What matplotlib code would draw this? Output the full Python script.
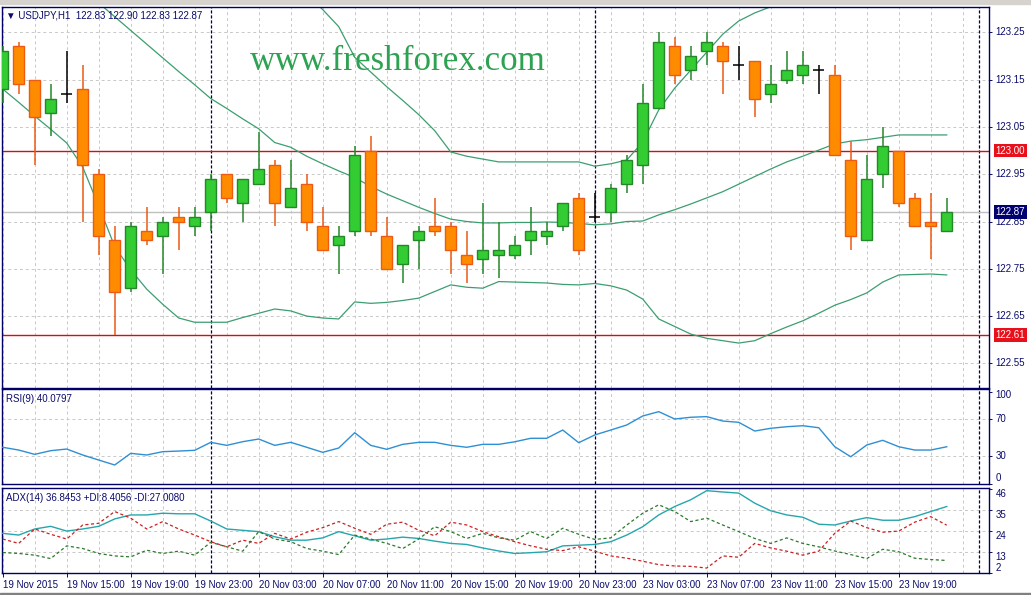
import numpy as np
import matplotlib
matplotlib.use("Agg")
import matplotlib.pyplot as plt
from matplotlib.patches import Rectangle
import matplotlib.transforms as mtrans

# ---- data (USDJPY H1, 19-23 Nov 2015) ----
opens = [123.13, 123.22, 123.15, 123.08, 123.12, 123.13, 122.95, 122.81, 122.71, 122.83,
         122.82, 122.86, 122.84, 122.87, 122.95, 122.89, 122.93, 122.97, 122.88, 122.93,
         122.84, 122.80, 122.83, 123.00, 122.82, 122.76, 122.81, 122.84, 122.84, 122.78,
         122.77, 122.78, 122.78, 122.81, 122.82, 122.84, 122.90, 122.86, 122.87, 122.93,
         122.97, 123.09, 123.22, 123.17, 123.21, 123.22, 123.18, 123.19, 123.12, 123.15,
         123.16, 123.17, 123.16, 122.98, 122.81, 122.95, 123.00, 122.90, 122.85, 122.83]
highs = [123.22, 123.23, 123.15, 123.14, 123.21, 123.18, 122.96, 122.84, 122.85, 122.88,
         122.86, 122.88, 122.88, 122.95, 122.95, 122.94, 123.04, 122.98, 122.98, 122.95,
         122.88, 122.84, 123.01, 123.03, 122.86, 122.80, 122.84, 122.90, 122.85, 122.83,
         122.89, 122.85, 122.82, 122.88, 122.85, 122.89, 122.91, 122.91, 122.93, 122.99,
         123.14, 123.25, 123.24, 123.22, 123.25, 123.23, 123.22, 123.19, 123.18, 123.21,
         123.21, 123.18, 123.18, 123.02, 122.99, 123.05, 123.00, 122.91, 122.91, 122.90]
lows = [123.10, 123.12, 122.97, 123.03, 123.10, 122.85, 122.78, 122.61, 122.70, 122.80,
        122.74, 122.79, 122.82, 122.83, 122.89, 122.85, 122.93, 122.84, 122.88, 122.83,
        122.79, 122.74, 122.82, 122.82, 122.75, 122.72, 122.75, 122.82, 122.74, 122.72,
        122.74, 122.73, 122.77, 122.78, 122.80, 122.83, 122.78, 122.85, 122.85, 122.91,
        122.93, 123.09, 123.14, 123.15, 123.18, 123.12, 123.15, 123.07, 123.10, 123.14,
        123.14, 123.12, 122.99, 122.79, 122.81, 122.92, 122.88, 122.84, 122.77, 122.83]
closes = [123.21, 123.14, 123.07, 123.11, 123.12, 122.97, 122.82, 122.70, 122.84, 122.81,
          122.85, 122.85, 122.86, 122.94, 122.90, 122.94, 122.96, 122.89, 122.92, 122.85,
          122.79, 122.82, 122.99, 122.83, 122.75, 122.80, 122.83, 122.83, 122.79, 122.76,
          122.79, 122.79, 122.80, 122.83, 122.83, 122.89, 122.79, 122.86, 122.92, 122.98,
          123.10, 123.23, 123.16, 123.20, 123.23, 123.19, 123.18, 123.11, 123.14, 123.17,
          123.18, 123.17, 122.99, 122.82, 122.94, 123.01, 122.89, 122.84, 122.84, 122.87]

# Bollinger bands (None = outside the visible window)
bb_upper = [None] * 19 + [
    123.33, 123.298, 123.262, 123.197, 123.166, 123.135, 123.106, 123.076, 123.042, 122.997,
    122.988, 122.982, 122.976, 122.976, 122.976, 122.976, 122.976, 122.976, 122.967, 122.972,
    122.980, 123.018, 123.086, 123.132, 123.170, 123.208, 123.246, 123.274, 123.291, 123.304,
    123.33] + [None] * 10
bb_mid = [None] * 5 + [
    123.341, 123.312, 123.283, 123.254, 123.225, 123.196, 123.167, 123.139, 123.110, 123.089,
    123.067, 123.046, 123.017, 123.007, 122.988, 122.972, 122.957, 122.943, 122.924, 122.908,
    122.894, 122.880, 122.867, 122.855, 122.850, 122.847, 122.847, 122.848, 122.848, 122.849,
    122.848, 122.846, 122.843, 122.845, 122.850, 122.851, 122.864, 122.875, 122.887, 122.900,
    122.913, 122.929, 122.945, 122.961, 122.976, 122.988, 123.001, 123.014, 123.020, 123.023,
    123.028, 123.033, 123.033, 123.033, 123.033]
bb_lower = [123.130, 123.102, 123.073, 123.045, 123.016, 122.965, 122.883, 122.797, 122.748, 122.707,
            122.675, 122.646, 122.637, 122.637, 122.637, 122.647, 122.656, 122.665, 122.661, 122.650,
            122.646, 122.644, 122.680, 122.677, 122.679, 122.683, 122.688, 122.702, 122.716, 122.711,
            122.709, 122.723, 122.722, 122.721, 122.720, 122.717, 122.716, 122.719, 122.714, 122.705,
            122.686, 122.644, 122.628, 122.612, 122.603, 122.598, 122.593, 122.598, 122.613, 122.627,
            122.640, 122.656, 122.673, 122.685, 122.699, 122.722, 122.737, 122.738, 122.739, 122.737]

rsi = [39.5, 36.5, 31.8, 35.8, 37.6, 31.1, 25.6, 20.2, 32.9, 31.1,
       34.7, 35.4, 36.2, 44.9, 41.6, 45.6, 48.5, 41.6, 44.9, 39.5,
       34.0, 38.7, 55.4, 41.6, 37.3, 42.7, 44.9, 44.9, 41.6, 39.5,
       42.7, 42.7, 45.5, 49.3, 49.3, 58.3, 44.5, 52.9, 58.3, 63.8,
       73.6, 78.3, 70.3, 72.2, 72.9, 68.1, 66.7, 57.2, 60.2, 61.9,
       63.0, 60.8, 40.1, 29.2, 42.0, 47.1, 40.1, 36.5, 36.5, 40.08]

adx = [22.7, 21.8, 25.0, 26.4, 23.9, 25.0, 26.4, 30.3, 32.4, 32.4,
       33.3, 33.0, 33.0, 29.2, 25.0, 24.3, 23.6, 20.9, 19.1, 19.1,
       20.3, 23.6, 21.4, 19.1, 19.7, 20.7, 20.0, 18.6, 17.4, 16.85,
       15.0, 13.4, 12.1, 12.5, 13.0, 16.1, 16.45, 16.85, 18.3, 21.8,
       26.2, 32.4, 36.85, 40.4, 45.2, 44.5, 43.9, 38.6, 34.6, 32.4,
       31.2, 27.5, 27.1, 29.2, 31.0, 29.6, 29.6, 31.5, 34.2, 36.85]
minus_di = [19.7, 17.4, 25.0, 22.2, 19.7, 27.1, 28.0, 34.2, 30.7, 25.0,
            28.9, 25.0, 21.8, 18.3, 15.6, 19.1, 17.4, 22.7, 19.7, 23.3,
            25.7, 28.9, 25.4, 22.2, 27.5, 28.6, 24.3, 21.4, 28.6, 27.1,
            23.6, 20.9, 18.3, 16.1, 14.3, 13.6, 15.6, 13.3, 10.8, 9.6,
            8.0, 6.2, 5.5, 5.3, 4.4, 10.8, 10.1, 17.4, 15.0, 13.3,
            11.2, 13.3, 22.7, 29.2, 25.7, 23.3, 23.9, 28.6, 31.5, 27.0]
plus_di = [12.6, 12.1, 11.2, 9.4, 16.1, 14.7, 12.1, 10.8, 10.3, 13.8,
           12.1, 13.3, 11.2, 18.0, 15.6, 13.3, 23.6, 19.7, 18.3, 14.7,
           13.3, 11.5, 21.8, 19.7, 17.4, 14.7, 19.7, 26.2, 23.6, 20.0,
           22.7, 20.3, 19.1, 23.6, 20.0, 25.4, 22.2, 19.5, 20.3, 27.1,
           33.3, 37.75, 34.2, 28.9, 30.7, 27.1, 23.6, 20.0, 17.4, 20.3,
           17.4, 15.6, 13.4, 11.5, 9.4, 14.3, 13.0, 9.6, 8.9, 8.4]

x_labels = ["19 Nov 2015", "19 Nov 15:00", "19 Nov 19:00", "19 Nov 23:00",
            "20 Nov 03:00", "20 Nov 07:00", "20 Nov 11:00", "20 Nov 15:00",
            "20 Nov 19:00", "20 Nov 23:00", "23 Nov 03:00", "23 Nov 07:00",
            "23 Nov 11:00", "23 Nov 15:00", "23 Nov 19:00"]
price_ticks = [123.25, 123.15, 123.05, 122.95, 122.85, 122.75, 122.65, 122.55]
day_breaks = [13, 37, 61]
level_hi, level_lo, bid = 123.00, 122.61, 122.87

# ---- styling ----
NAVY = "#0b0b6b"
GRID = "#c8c8c8"
FONT = ["Liberation Sans", "DejaVu Sans"]
plt.rcParams["font.family"] = FONT
plt.rcParams["font.size"] = 7

W, H = 1031, 595
fig = plt.figure(figsize=(W / 100, H / 100), dpi=100)
fig.patch.set_facecolor("white")

def rect(x0, y0, x1, y1):
    return [x0 / W, 1 - y1 / H, (x1 - x0) / W, (y1 - y0) / H]

ax = fig.add_axes(rect(2, 7, 989, 388))
ax_rsi = fig.add_axes(rect(2, 389, 989, 484))
ax_adx = fig.add_axes(rect(2, 488, 989, 573))

# window frame bits
fig.patches.append(Rectangle((0, 1 - 4 / H), 1, 4 / H, transform=fig.transFigure,
                             color="#d6d3ce", zorder=0))
fig.patches.append(Rectangle((0, 0), 1, 2 / H, transform=fig.transFigure,
                             color="#808080", zorder=0))

x = np.arange(len(opens))
o = np.array(opens); h = np.array(highs); l = np.array(lows); c = np.array(closes)

for a in (ax, ax_rsi, ax_adx):
    a.set_xlim(-0.044, 61.64)
    for s in a.spines.values():
        s.set_color("#000066")
        s.set_linewidth(1)
    for gx in range(0, 62, 2):
        a.axvline(gx, color=GRID, lw=0.7, ls=(0, (3, 3)), zorder=0)
    for d in day_breaks:
        a.axvline(d, color="#000050", lw=0.9, ls=(0, (2.5, 1.5)), zorder=1)
    a.tick_params(axis="x", bottom=False, labelbottom=False)
    a.tick_params(axis="y", left=False, labelleft=False, right=True, labelright=False,
                  direction="out", length=2.5, width=0.7, color=NAVY)

lab_tr = lambda a: mtrans.blended_transform_factory(a.transAxes, a.transData)

def rlabel(a, y, s, va="center", fc=None, color=NAVY):
    kw = {}
    if fc is not None:
        kw["bbox"] = dict(boxstyle="square,pad=0.18", fc=fc, ec="none")
    a.text(1.0065, y, s, transform=lab_tr(a), ha="left", va=va, fontsize=7,
           color=color, clip_on=False, **kw)

# ---- main price panel ----
ax.set_ylim(122.498, 123.3035)
for p in price_ticks:
    ax.axhline(p, color=GRID, lw=0.7, ls=(0, (3, 3)), zorder=0)
ax.set_yticks(price_ticks)
ax.axhline(bid, color="#c0c0c0", lw=1, zorder=1)
ax.axhline(level_hi, color="#c81414", lw=1, zorder=2)
ax.axhline(level_lo, color="#c81414", lw=1, zorder=2)

ax.plot(x, np.array(bb_upper, dtype=float), color="#3c9e70", lw=0.9, zorder=2)
ax.plot(x, np.array(bb_mid, dtype=float), color="#3c9e70", lw=0.9, zorder=2)
ax.plot(x, np.array(bb_lower, dtype=float), color="#3c9e70", lw=0.9, zorder=2)

up = c > o
dn = c < o
dj = c == o
bw = 0.66
ax.vlines(x[up], l[up], h[up], color="#24882a", lw=1.1, zorder=3)
ax.bar(x[up], c[up] - o[up], bottom=o[up], width=bw, color="#33cc33",
       edgecolor="#24882a", linewidth=1, zorder=4)
ax.vlines(x[dn], l[dn], h[dn], color="#ec5a14", lw=1.1, zorder=3)
ax.bar(x[dn], o[dn] - c[dn], bottom=c[dn], width=bw, color="#ff8c00",
       edgecolor="#ec5a14", linewidth=1, zorder=4)
ax.vlines(x[dj], l[dj], h[dj], color="black", lw=1.1, zorder=3)
ax.hlines(o[dj], x[dj] - bw / 2, x[dj] + bw / 2, color="black", lw=1.1, zorder=3)

for p in price_ticks:
    rlabel(ax, p, f"{p:.2f}")
rlabel(ax, level_hi, f"{level_hi:.2f}", fc="#e8101a", color="white")
rlabel(ax, level_lo, f"{level_lo:.2f}", fc="#e8101a", color="white")
rlabel(ax, bid, f"{bid:.2f}", fc="#000070", color="white")

ax.text(0.0045, 0.979, "\u25bc USDJPY,H1  122.83 122.90 122.83 122.87", transform=ax.transAxes,
        ha="left", va="center", fontsize=7, color=NAVY, family=FONT)
ax.text(0.2513, 0.8346, "www.freshforex.com", transform=ax.transAxes, ha="left",
        va="baseline", fontsize=25.2, color="#2ea252", family=["Liberation Serif", "DejaVu Serif"],
        zorder=5)

# ---- RSI panel ----
ax_rsi.set_ylim(-0.5, 103)
for lv in (70, 30):
    ax_rsi.axhline(lv, color=GRID, lw=0.7, ls=(0, (3, 3)), zorder=0)
ax_rsi.set_yticks([100, 70, 30, 0])
ax_rsi.plot(x, rsi, color="#2f8fd4", lw=1, zorder=3)
rlabel(ax_rsi, 96, "100")
rlabel(ax_rsi, 70, "70")
rlabel(ax_rsi, 30, "30")
rlabel(ax_rsi, 6, "0")
ax_rsi.text(0.0045, 0.9, "RSI(9) 40.0797", transform=ax_rsi.transAxes, ha="left",
            va="center", fontsize=7, color=NAVY)

# ---- ADX panel ----
ax_adx.set_ylim(1.8, 46.6)
for lv in (35, 24, 13):
    ax_adx.axhline(lv, color=GRID, lw=0.7, ls=(0, (3, 3)), zorder=0)
ax_adx.set_yticks([46, 35, 24, 13, 2])
ax_adx.plot(x, adx, color="#26a6ac", lw=1, zorder=3)
ax_adx.plot(x, plus_di, color="#2a7a2a", lw=0.9, ls=(0, (2.5, 2)), zorder=3)
ax_adx.plot(x, minus_di, color="#cc2020", lw=0.9, ls=(0, (2.5, 2)), zorder=3)
for lv in (46, 35, 24, 13):
    rlabel(ax_adx, lv, str(lv), va="top")
rlabel(ax_adx, 2, "2", va="bottom")
ax_adx.text(0.0045, 0.88, "ADX(14) 36.8453 +DI:8.4056 -DI:27.0080", transform=ax_adx.transAxes,
            ha="left", va="center", fontsize=7, color=NAVY)

ax_adx.set_xticks(np.arange(0, 57, 4))
ax_adx.set_xticklabels(x_labels)
ax_adx.tick_params(axis="x", bottom=True, labelbottom=True, direction="out", length=3,
                   width=0.7, color=NAVY, labelcolor=NAVY, labelsize=7, pad=2)
for t in ax_adx.get_xticklabels():
    t.set_ha("left")

fig.savefig("out.png", dpi=100)
